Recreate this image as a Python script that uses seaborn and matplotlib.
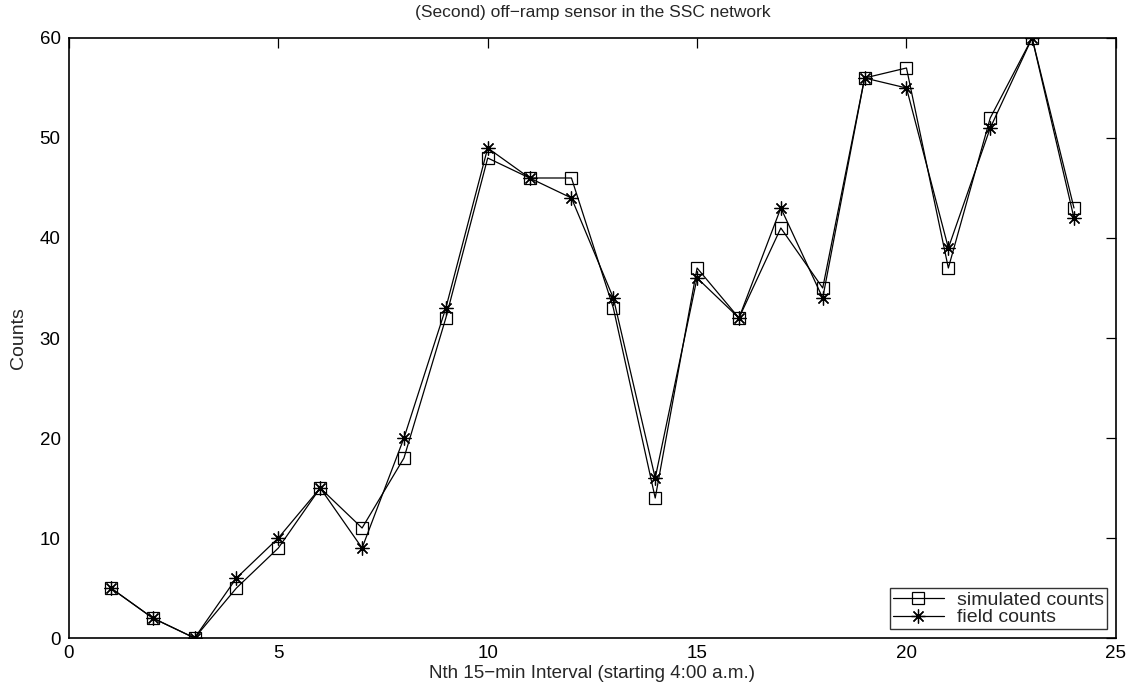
import matplotlib
matplotlib.use("Agg")
import matplotlib.pyplot as plt
import seaborn as sns
import pandas as pd

intervals = list(range(1, 25))
simulated = [5, 2, 0, 5, 9, 15, 11, 18, 32, 48, 46, 46, 33, 14, 37, 32, 41, 35, 56, 57, 37, 52, 60, 43]
field = [5, 2, 0, 6, 10, 15, 9, 20, 33, 49, 46, 44, 34, 16, 36, 32, 43, 34, 56, 55, 39, 51, 60, 42]
x_ticks = [0, 5, 10, 15, 20, 25]
y_ticks = [0, 10, 20, 30, 40, 50, 60]

sns.set_theme(style="white")
plt.rcParams['font.family'] = ['Liberation Sans', 'DejaVu Sans']

fig = plt.figure(figsize=(11.34, 6.87), dpi=100)
ax = fig.add_axes([0.0608, 0.0713, 0.9232, 0.8734])

df_sim = pd.DataFrame({"x": intervals, "y": simulated})
df_fld = pd.DataFrame({"x": intervals, "y": field})

sns.lineplot(data=df_sim, x="x", y="y", ax=ax, color="black", linewidth=0.9,
             marker="s", markersize=8, markerfacecolor="none", markeredgecolor="black",
             markeredgewidth=0.9, label="simulated counts")
sns.lineplot(data=df_fld, x="x", y="y", ax=ax, color="black", linewidth=0.9,
             marker=(8, 2, 0), markersize=10, markeredgecolor="black",
             markeredgewidth=0.9, label="field counts")

ax.set_xlim(0, 25)
ax.set_ylim(0, 60)
ax.set_xticks(x_ticks)
ax.set_yticks(y_ticks)
ax.tick_params(direction="in", length=7, width=0.9, top=True, right=True,
               labelsize=13.5, colors="black")
ax.tick_params(axis="x", pad=5)
ax.tick_params(axis="y", pad=6)
for s in ax.spines.values():
    s.set_color("black")
    s.set_linewidth(1.2)
    s.set_visible(True)

ax.set_xlabel("Nth 15\u2212min Interval (starting 4:00 a.m.)", fontsize=13.5, labelpad=2)
ax.set_ylabel("Counts", fontsize=14, labelpad=9)
ax.set_title("(Second) off\u2212ramp sensor in the SSC network", fontsize=12.5, pad=15)

leg = ax.legend(loc="lower right", fontsize=14, frameon=True, fancybox=False,
                edgecolor="black", handlelength=2.6, borderpad=0.15,
                labelspacing=0.0, borderaxespad=0.45, handletextpad=0.7)
leg.get_frame().set_linewidth(1.0)

fig.savefig("out.png", dpi=100, facecolor="white")
